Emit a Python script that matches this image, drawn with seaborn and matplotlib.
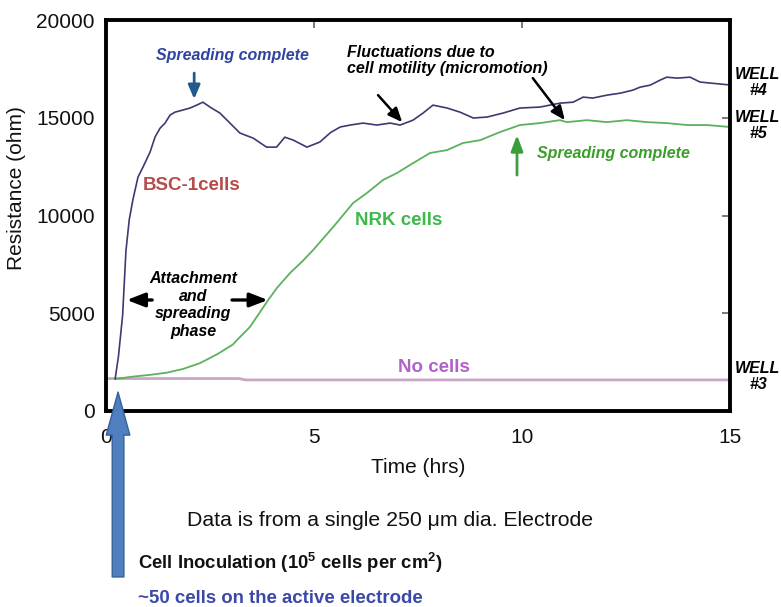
import matplotlib
matplotlib.use("Agg")
import matplotlib.pyplot as plt
import seaborn as sns
import pandas as pd

# ---- data -------------------------------------------------------------
bsc_time = [0.22, 0.30, 0.40, 0.48, 0.56, 0.65, 0.77, 0.89, 1.06, 1.18, 1.30, 1.42,
            1.54, 1.66, 1.85, 2.02, 2.18, 2.33, 2.50, 2.74, 2.98, 3.22, 3.54, 3.86,
            4.10, 4.30, 4.50, 4.74, 4.83, 5.14, 5.40, 5.63, 5.87, 6.18, 6.51, 6.83,
            7.07, 7.38, 7.62, 7.86, 8.20, 8.51, 8.83, 9.16, 9.54, 9.95, 10.43, 10.91,
            11.23, 11.47, 11.70, 12.04, 12.36, 12.67, 12.84, 13.08, 13.32, 13.48,
            13.73, 14.04, 14.28, 14.52, 14.76, 15.00]
bsc_resistance = [1640, 2800, 4900, 8200, 9800, 10840, 11970, 12480, 13250, 14020,
                  14470, 14730, 15140, 15290, 15400, 15500, 15650, 15800, 15550,
                  15240, 14730, 14220, 13960, 13500, 13500, 14010, 13860, 13600,
                  13500, 13760, 14250, 14530, 14630, 14730, 14630, 14730, 14630,
                  14880, 15240, 15650, 15500, 15290, 14990, 15040, 15240, 15500,
                  15550, 15750, 15800, 16060, 16010, 16160, 16260, 16420, 16570,
                  16670, 16930, 17080, 17030, 17080, 16830, 16780, 16730, 16680]

nrk_time = [0.22, 0.65, 1.06, 1.46, 1.85, 2.26, 2.67, 3.05, 3.15, 3.46, 3.90, 4.11,
            4.42, 4.74, 4.98, 5.46, 5.94, 6.27, 6.66, 6.99, 7.38, 7.79, 8.20, 8.58,
            9.00, 9.47, 9.95, 10.43, 10.91, 11.08, 11.56, 12.04, 12.52, 13.00,
            13.48, 13.97, 14.45, 15.00]
nrk_resistance = [1640, 1760, 1850, 1960, 2150, 2450, 2900, 3400, 3630, 4300, 5680,
                  6300, 7050, 7700, 8240, 9410, 10640, 11150, 11820, 12170, 12680,
                  13200, 13350, 13710, 13860, 14270, 14630, 14730, 14880, 14780,
                  14880, 14780, 14880, 14780, 14730, 14630, 14630, 14530]

blank_time = [0.0, 3.20, 3.35, 15.0]
blank_resistance = [1660, 1660, 1590, 1590]

wells = ["WELL #4", "WELL #5", "WELL #3"]
well_colors = ["#3b3b72", "#5cb15c", "#c9a6c6"]
x_ticks = [0, 5, 10, 15]
y_ticks = [0, 5000, 10000, 15000, 20000]

df = pd.concat([
    pd.DataFrame({"time": bsc_time, "resistance": bsc_resistance, "well": wells[0]}),
    pd.DataFrame({"time": nrk_time, "resistance": nrk_resistance, "well": wells[1]}),
    pd.DataFrame({"time": blank_time, "resistance": blank_resistance, "well": wells[2]}),
])

# ---- style ------------------------------------------------------------
sns.set_theme(style="white")
plt.rcParams["font.family"] = ["Liberation Sans", "DejaVu Sans"]
plt.rcParams["mathtext.fontset"] = "custom"
plt.rcParams["mathtext.rm"] = "Liberation Sans"
plt.rcParams["mathtext.bf"] = "Liberation Sans:bold"

fig = plt.figure(figsize=(7.81, 6.07), dpi=100)
ax = fig.add_axes([0.1357, 0.3229, 0.799, 0.644])

sns.lineplot(data=df[df.well == wells[2]], x="time", y="resistance", color=well_colors[2],
             lw=2.0, ax=ax, estimator=None, sort=False, legend=False)
sns.lineplot(data=df[df.well == wells[1]], x="time", y="resistance", color=well_colors[1],
             lw=1.3, ax=ax, estimator=None, sort=False, legend=False)
sns.lineplot(data=df[df.well == wells[0]], x="time", y="resistance", color=well_colors[0],
             lw=1.2, ax=ax, estimator=None, sort=False, legend=False)

ax.set_xlim(0, 15)
ax.set_ylim(0, 20000)
ax.set_xticks(x_ticks)
ax.set_yticks(y_ticks)
ax.set_xticklabels([str(v) for v in x_ticks])
ax.set_yticklabels([str(v) for v in y_ticks])
ax.tick_params(axis="both", direction="in", length=6, width=1.1, color="#555555",
               labelsize=15, top=True, right=True, labelcolor="#111111")
ax.tick_params(axis="x", pad=12)
ax.tick_params(axis="y", pad=8)
for s in ax.spines.values():
    s.set_linewidth(2.8)
    s.set_color("black")

ax.set_xlabel("Time (hrs)", fontsize=15, labelpad=8, color="#111111")
ax.set_ylabel("Resistance (ohm)", fontsize=15, color="#111111", va="center")
ax.yaxis.set_label_coords(-0.143, 0.57)

# ---- annotations -------------------------------------------------------
bi = dict(fontweight="bold", fontstyle="italic")

ax.text(3.03, 18210, "Spreading complete", color="#2f44a0", fontsize=11.5,
        ha="center", va="center", **bi)
ax.annotate("", xy=(2.12, 15960), xytext=(2.12, 17290),
            arrowprops=dict(arrowstyle="-|>,head_length=0.7,head_width=0.3",
                            color="#1f5b8c", lw=2, shrinkA=0, shrinkB=0))

ax.text(5.79, 17950, "Fluctuations due to\ncell motility (micromotion)", color="black",
        fontsize=11.5, ha="left", va="center", linespacing=1.1, **bi)
for tail, tip in [((6.54, 16160), (7.12, 14780)), ((10.26, 17030), (11.03, 14880))]:
    ax.annotate("", xy=tip, xytext=tail,
                arrowprops=dict(arrowstyle="-|>,head_length=0.7,head_width=0.3",
                                color="black", lw=1.8, shrinkA=0, shrinkB=0))

ax.text(0.89, 11560, "BSC-1cells", color="#b84a4a", fontsize=13.5, fontweight="bold",
        ha="left", va="center")
ax.text(7.03, 9770, "NRK cells", color="#3fb84c", fontsize=13.5, fontweight="bold",
        ha="center", va="center")
ax.text(7.88, 2200, "No cells", color="#b062c8", fontsize=13.5, fontweight="bold",
        ha="center", va="center")

ax.text(10.36, 13200, "Spreading complete", color="#3a9e2a", fontsize=11.5,
        ha="left", va="center", **bi)
ax.annotate("", xy=(9.88, 14120), xytext=(9.88, 12070),
            arrowprops=dict(arrowstyle="-|>,head_length=0.8,head_width=0.3",
                            color="#3a9e3a", lw=2, shrinkA=0, shrinkB=0))

ax.text(2.09, 5420, "Attachment\nand\nspreading\nphase", color="black", fontsize=11.5,
        ha="center", va="center", linespacing=1.2, **bi)
for tail, tip in [((1.11, 5680), (0.50, 5680)), ((3.03, 5680), (3.89, 5680))]:
    ax.annotate("", xy=tip, xytext=tail,
                arrowprops=dict(arrowstyle="-|>,head_length=0.9,head_width=0.35",
                                color="black", lw=2.4, shrinkA=0, shrinkB=0))

for label, yv in zip(wells, [16800, 14600, 1760]):
    ax.text(15.67, yv, label.replace(" ", "\n"), color="black", fontsize=11.5,
            ha="center", va="center", linespacing=1.05, clip_on=False, **bi)

# inoculation marker
ax.annotate("", xy=(0.29, 970), xytext=(0.29, -8490), annotation_clip=False,
            arrowprops=dict(arrowstyle="simple,head_length=1.55,head_width=0.85,tail_width=0.42",
                            mutation_scale=20, fc="#4f7fbf", ec="#35609a", lw=1,
                            shrinkA=0, shrinkB=0))

fig.text(0.499, 0.1433, "Data is from a single 250 \u03bcm dia. Electrode", fontsize=15.3,
         ha="center", va="center", color="#111111")
fig.text(0.1767, 0.0725, r"Cell Inoculation (10$^{\mathbf{5}}$ cells per cm$^{\mathbf{2}}$)",
         fontsize=13.3, fontweight="bold", ha="left", va="center", color="#111111")
fig.text(0.1767, 0.0148, "~50 cells on the active electrode", fontsize=13.4,
         fontweight="bold", ha="left", va="center", color="#3a48a8")

fig.savefig("out.png", dpi=100)
